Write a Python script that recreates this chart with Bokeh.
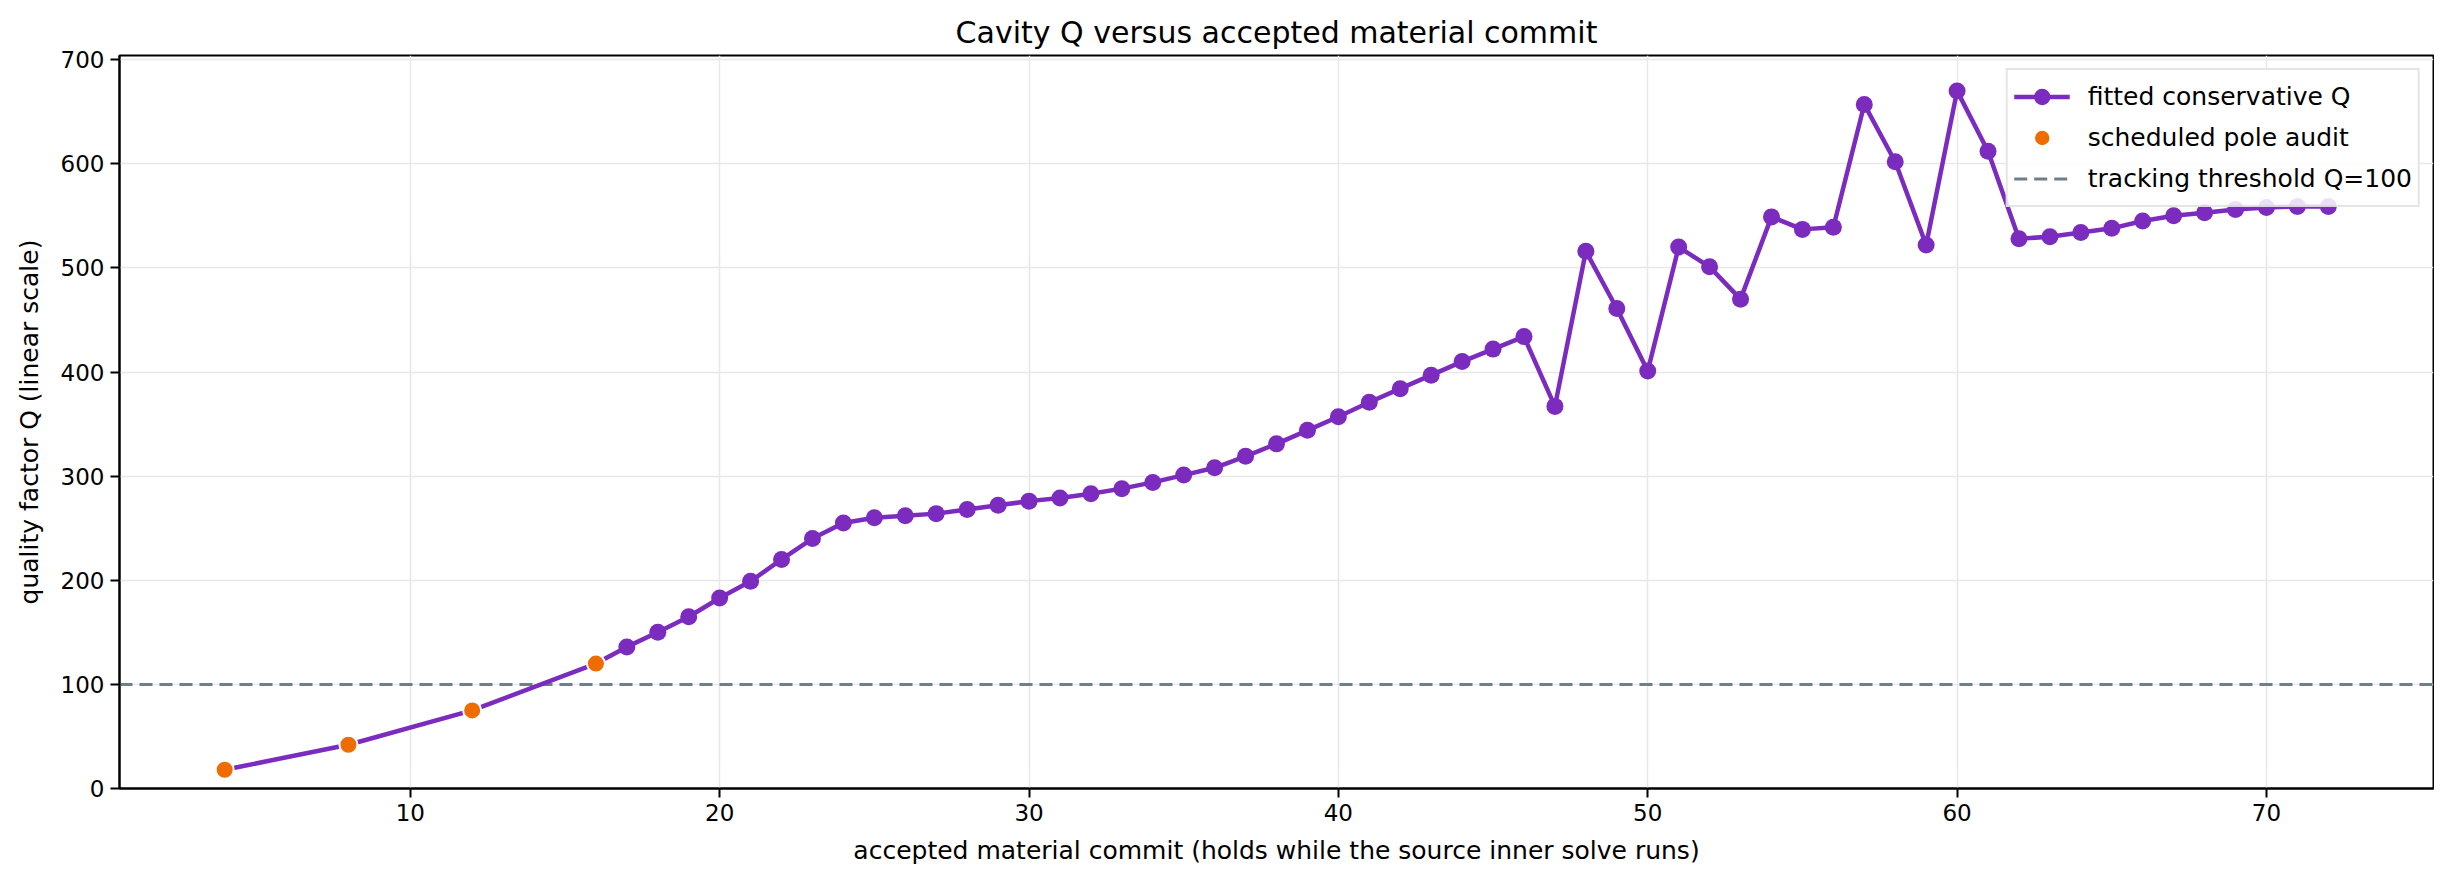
from bokeh.plotting import figure
from bokeh.models import FixedTicker, Range1d, Legend, LegendItem, ColumnDataSource
from bokeh.embed import file_html
from bokeh.resources import INLINE

# ---- data ----
commit = [4, 8, 12, 16] + list(range(17, 73))
q_fit = [18, 42, 75, 120,
         136, 150, 165, 183, 199, 220, 240,
         255, 260, 262, 264, 268, 272, 276, 279, 283, 288,
         294, 301, 308, 319, 331, 344, 357, 371, 384, 397,
         410, 422, 434, 367, 516, 461, 401, 520, 501, 470,
         549, 537, 539, 657, 602, 522, 670, 612, 528, 530,
         534, 538, 545, 550, 553, 556, 558, 559, 559]
audit_commit = [4, 8, 12, 16]
audit_q = [18, 42, 75, 120]
threshold = 100
x_ticks = [10, 20, 30, 40, 50, 60, 70]
y_ticks = [0, 100, 200, 300, 400, 500, 600, 700]

title = "Cavity Q versus accepted material commit"
x_label = "accepted material commit (holds while the source inner solve runs)"
y_label = "quality factor Q (linear scale)"

PURPLE = "#7B2CBF"
ORANGE = "#EF6C00"
GREY = "#6E7F8A"
FONT = "DejaVu Sans"

x_start, x_end = 0.6, 75.4

p = figure(width=2434, height=868, output_backend="svg", toolbar_location=None,
           x_range=Range1d(x_start, x_end), y_range=Range1d(0, 704),
           min_border_left=119, min_border_right=1, min_border_top=55, min_border_bottom=80)

p.title.text = title
p.title.text_font = FONT
p.title.text_font_size = "30px"
p.title.text_font_style = "normal"
p.title.text_color = "black"
p.title.align = "center"
p.title.offset = 0
p.title.standoff = 12

src = ColumnDataSource(dict(x=commit, y=q_fit))
thr_src = ColumnDataSource(dict(x=[x_start, x_end], y=[threshold, threshold]))

thr = p.line("x", "y", source=thr_src, line_color=GREY, line_width=3, line_dash="13 7")
ln = p.line("x", "y", source=src, line_color=PURPLE, line_width=4.5)
mk = p.scatter("x", "y", source=src, size=17, fill_color=PURPLE, line_color=PURPLE, line_width=0)
au = p.scatter(audit_commit, audit_q, size=18, fill_color=ORANGE, line_color="white", line_width=2)

legend = Legend(items=[
    LegendItem(label="fitted conservative Q", renderers=[ln, mk]),
    LegendItem(label="scheduled pole audit", renderers=[au]),
    LegendItem(label="tracking threshold Q=100", renderers=[thr]),
], location="top_right")
legend.label_text_font = FONT
legend.label_text_font_size = "25px"
legend.label_text_color = "black"
legend.glyph_width = 56
legend.glyph_height = 41
legend.label_height = 41
legend.label_standoff = 18
legend.spacing = -7
legend.padding = 6
legend.margin = 13
legend.border_line_color = "#cccccc"
legend.border_line_width = 2
legend.background_fill_alpha = 0.85
p.add_layout(legend)

for ax, ticks in ((p.xaxis, x_ticks), (p.yaxis, y_ticks)):
    ax.ticker = FixedTicker(ticks=ticks)
    ax.major_label_text_font = FONT
    ax.major_label_text_font_size = "23px"
    ax.major_label_text_color = "black"
    ax.axis_label_text_font = FONT
    ax.axis_label_text_font_size = "25px"
    ax.axis_label_text_font_style = "normal"
    ax.axis_label_text_color = "black"
    ax.axis_line_color = "black"
    ax.axis_line_width = 2
    ax.major_tick_line_color = "black"
    ax.major_tick_line_width = 2
    ax.major_tick_out = 9
    ax.major_tick_in = 0
    ax.minor_tick_line_color = None

p.xaxis.axis_label = x_label
p.yaxis.axis_label = y_label
p.xaxis.major_label_standoff = 6
p.yaxis.major_label_standoff = 6
p.xaxis.axis_label_standoff = 12
p.yaxis.axis_label_standoff = 14

p.xgrid.ticker = FixedTicker(ticks=x_ticks)
p.ygrid.ticker = FixedTicker(ticks=y_ticks)
p.grid.grid_line_color = "#e8e8e8"
p.grid.grid_line_width = 1.5

p.outline_line_color = "black"
p.outline_line_width = 2
p.outline_line_alpha = 1

open("out.html", "w").write(file_html(p, INLINE))
